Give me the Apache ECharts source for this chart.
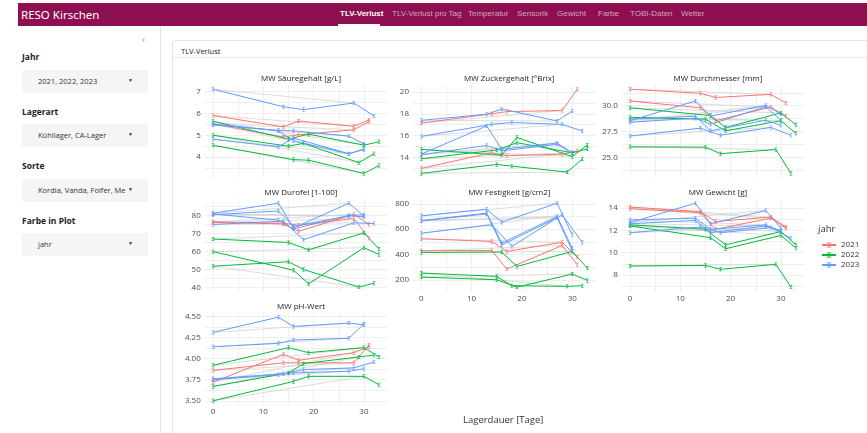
<!DOCTYPE html>
<html>
<head>
<meta charset="utf-8">
<title>RESO Kirschen</title>
<script src="https://cdn.jsdelivr.net/npm/echarts@6/dist/echarts.min.js"></script>
<style>
  body { margin: 0; width: 867px; height: 433px; overflow: hidden; position: relative; background: #fff; font-family: "Open Sans", sans-serif; }
  .topbar { position: absolute; left: 18px; top: 3px; right: 0; height: 23px; background: #8d0f50; color: #fff; }
  .brand { position: absolute; left: 3px; top: 4px; font-size: 11.5px; font-family: "Noto Sans", sans-serif; }
  .tab { position: absolute; top: 6px; font-size: 8px; font-family: "Liberation Sans Narrow", sans-serif; color: rgba(255,255,255,0.62); white-space: nowrap; }
  .tab.active { color: #fff; font-weight: bold; }
  .tabline { position: absolute; left: 320px; top: 21px; width: 42px; height: 2px; background: #fff; }
  .side { position: absolute; left: 0; top: 26px; width: 160px; bottom: 0; border-right: 1px solid #e6e6e6; }
  .collapse { position: absolute; left: 142px; top: 6px; font-size: 10px; color: #aaa; }
  .lab { position: absolute; left: 22px; font-size: 8.5px; font-weight: bold; color: #222; }
  .box { position: absolute; left: 22px; width: 126px; height: 23px; background: #f5f5f5; }
  .box span { position: absolute; left: 16px; top: 6px; font-size: 7.5px; color: #333; white-space: nowrap; }
  .box i { position: absolute; left: 106px; top: 7px; font-size: 5px; font-style: normal; color: #333; }
  .card { position: absolute; left: 172px; top: 40px; width: 700px; height: 400px; border: 1px solid #e4e4e4; border-radius: 3px; }
  .card .head { height: 17px; border-bottom: 1px solid #ececec; font-size: 7.5px; color: #222; padding: 5px 0 0 8px; box-sizing: border-box; }
  #chart { position: absolute; left: 0; top: 0; width: 867px; height: 433px; }
</style>
</head>
<body>
<div class="topbar">
  <div class="brand">RESO Kirschen</div>
  <div class="tab active" style="left:322px">TLV-Verlust</div>
  <div class="tab" style="left:374px">TLV-Verlust pro Tag</div>
  <div class="tab" style="left:450px">Temperatur</div>
  <div class="tab" style="left:499px">Sensorik</div>
  <div class="tab" style="left:539px">Gewicht</div>
  <div class="tab" style="left:580px">Farbe</div>
  <div class="tab" style="left:612px">TOBI-Daten</div>
  <div class="tab" style="left:663px">Wetter</div>
  <div class="tabline"></div>
</div>
<div class="side">
  <div class="collapse">&lsaquo;</div>
  <div class="lab" style="top:25px">Jahr</div>
  <div class="box" style="top:44px"><span>2021, 2022, 2023</span><i>&#9660;</i></div>
  <div class="lab" style="top:80px">Lagerart</div>
  <div class="box" style="top:98px"><span>Kühllager, CA-Lager</span><i>&#9660;</i></div>
  <div class="lab" style="top:134px">Sorte</div>
  <div class="box" style="top:153px"><span>Kordia, Vanda, Folfer, Me</span><i>&#9660;</i></div>
  <div class="lab" style="top:189px">Farbe in Plot</div>
  <div class="box" style="top:207px"><span>jahr</span><i>&#9660;</i></div>
</div>
<div class="card"><div class="head">TLV-Verlust</div></div>
<div id="chart"></div>
<script>
// one row per series (sorte x lagerart), coloured by jahr
var jahr = ['2021', '2021', '2022', '2022', '2022', '2023', '2023', '2023', '2023'];
var tage = [
  [0, 14, 17, 28, 31],
  [0, 14, 17, 28, 31],
  [0, 15, 19, 30, 33],
  [0, 16, 19, 30, 33],
  [0, 15, 18, 29, 32],
  [0, 13, 16, 27, 30],
  [0, 13, 16, 27, 30],
  [0, 14, 18, 28, 32],
  [0, 13, 16, 27, 30]
];

var saeure = [
  [5.90, 5.38, 5.65, 5.41, 5.70],
  [5.52, 4.92, 5.02, 5.25, 5.62],
  [5.64, 4.82, 5.05, 4.55, 4.70],
  [4.54, 3.89, 3.86, 3.26, 3.62],
  [5.00, 4.50, 4.63, 3.75, 4.16],
  [5.47, 5.22, 5.20, 4.96, 4.60],
  [4.82, 4.47, 4.87, 4.16, 4.37],
  [7.10, 6.30, 6.17, 6.47, 5.88],
  [5.52, 5.20, 4.75, 4.15, 4.35]
];
var zucker = [
  [17.15, 18.00, 18.20, 18.30, 20.25],
  [13.00, 14.43, 14.16, 14.30, 14.58],
  [13.88, 14.68, 15.35, 14.43, 14.77],
  [14.74, 14.20, 15.84, 14.07, 15.14],
  [12.54, 13.36, 13.20, 12.66, 13.85],
  [17.40, 17.95, 18.44, 17.34, 18.25],
  [14.31, 16.88, 14.74, 15.32, 14.43],
  [15.93, 17.03, 17.20, 17.03, 16.42],
  [14.25, 15.10, 14.60, 15.20, 14.40]
];
var durchmesser = [
  [31.60, 31.20, 30.80, 31.10, 30.26],
  [30.46, 29.80, 28.55, 29.87, 29.00],
  [28.88, 28.70, 27.57, 28.55, 27.33],
  [29.80, 29.05, 27.90, 29.30, 28.15],
  [26.02, 25.99, 25.36, 25.76, 23.45],
  [28.55, 30.46, 29.00, 30.03, 29.20],
  [28.70, 28.98, 27.57, 28.60, 28.10],
  [27.07, 27.83, 27.14, 27.90, 27.14],
  [28.40, 28.80, 28.20, 29.90, 28.60]
];
var durofel = [
  [76.5, 75.2, 71.2, 80.6, 75.0],
  [76.1, 75.7, 74.5, 78.3, 67.4],
  [66.9, 65.0, 60.9, 70.3, 61.4],
  [59.9, 49.6, 42.0, 62.1, 58.3],
  [51.8, 54.3, 50.0, 40.2, 42.4],
  [81.2, 86.8, 73.0, 86.8, 79.7],
  [80.4, 82.5, 74.0, 79.7, 79.3],
  [75.0, 76.8, 66.5, 75.9, 75.5],
  [80.8, 77.4, 72.5, 80.0, 80.4]
];
var festigkeit = [
  [524, 503, 424, 497, 379],
  [429, 432, 285, 471, 319],
  [221, 200, 142, 245, 195],
  [416, 419, 305, 424, 292],
  [253, 227, 153, 148, 153],
  [705, 758, 655, 805, 555],
  [668, 726, 490, 700, 450],
  [568, 634, 463, 713, 495],
  [665, 720, 475, 690, 430]
];
var gewicht = [
  [14.10, 13.70, 12.80, 13.20, 12.30],
  [13.95, 13.60, 12.10, 13.10, 12.20],
  [12.50, 12.10, 10.70, 11.90, 10.70],
  [12.40, 11.35, 10.35, 11.55, 10.40],
  [8.80, 8.85, 8.50, 8.95, 6.90],
  [12.70, 14.45, 12.60, 13.80, 12.20],
  [12.95, 13.10, 12.10, 12.50, 11.90],
  [11.80, 12.30, 11.80, 12.25, 11.30],
  [12.60, 12.90, 11.80, 12.40, 12.00]
];
var ph = [
  [3.86, 3.95, 3.95, 3.95, 4.16],
  [3.72, 4.05, 3.98, 4.07, 4.14],
  [3.92, 4.13, 4.07, 4.13, 4.02],
  [3.50, 3.73, 3.79, 3.79, 3.69],
  [3.67, 3.83, 3.94, 4.02, 4.04],
  [4.31, 4.49, 4.38, 4.42, 4.40],
  [4.14, 4.18, 4.22, 4.24, 4.41],
  [3.76, 3.82, 3.87, 3.89, 3.96],
  [3.75, 3.81, 3.83, 3.85, 3.88]
];

// tick labels
var xTicks = [0, 10, 20, 30];
var saeureTicks = [4, 5, 6, 7];
var zuckerTicks = [14, 16, 18, 20];
var durchTicks = [25, 27.5, 30];
var durofelTicks = [40, 50, 60, 70, 80, 90];
var festTicks = [200, 400, 600, 800];
var gewichtTicks = [8, 10, 12, 14];
var phTicks = [3.5, 3.75, 4, 4.25, 4.5];

var farben = { '2021': '#F8766D', '2022': '#00BA38', '2023': '#619CFF' };

var cols = [[204.7, 387.3], [413, 595.6], [621.7, 804.3]];
var rows = [[85, 177.6], [199, 291.3], [313, 405]];

var panels = [
  { title: 'MW Säuregehalt [g/L]', werte: saeure, ticks: saeureTicks, dec: 0, c: 0, r: 0, xlab: false },
  { title: 'MW Zuckergehalt [°Brix]', werte: zucker, ticks: zuckerTicks, dec: 0, c: 1, r: 0, xlab: false },
  { title: 'MW Durchmesser [mm]', werte: durchmesser, ticks: durchTicks, dec: 1, c: 2, r: 0, xlab: false },
  { title: 'MW Durofel [1-100]', werte: durofel, ticks: durofelTicks, dec: 0, c: 0, r: 1, xlab: false },
  { title: 'MW Festigkeit [g/cm2]', werte: festigkeit, ticks: festTicks, dec: 0, c: 1, r: 1, xlab: true },
  { title: 'MW Gewicht [g]', werte: gewicht, ticks: gewichtTicks, dec: 0, c: 2, r: 1, xlab: true },
  { title: 'MW pH-Wert', werte: ph, ticks: phTicks, dec: 2, c: 0, r: 2, xlab: true }
];

// error bar look-alike marker
var errSym = 'path://M0,0 L4,0 L4,1 L2.5,1 L2.5,7 L4,7 L4,8 L0,8 L0,7 L1.5,7 L1.5,1 L0,1 Z';

function expand(lo, hi) {
  var d = (hi - lo) * 0.05;
  return [lo - d, hi + d];
}
function withMinor(ticks, lo, hi) {
  var step = ticks[1] - ticks[0];
  var out = [];
  for (var v = ticks[0] - step; v <= ticks[ticks.length - 1] + step + 1e-9; v += step / 2) {
    if (v >= lo && v <= hi) out.push(+v.toFixed(4));
  }
  return out;
}

var allDays = [].concat.apply([], tage);
var xr = expand(Math.min.apply(null, allDays), Math.max.apply(null, allDays));

var grids = [], xAxes = [], yAxes = [], series = [], titles = [];
var labelCol = '#4d4d4d', gridCol = '#ebebeb';

panels.forEach(function (p, i) {
  var flat = [].concat.apply([], p.werte);
  var yr = expand(Math.min.apply(null, flat), Math.max.apply(null, flat));
  var L = cols[p.c][0], R = cols[p.c][1], T = rows[p.r][0], B = rows[p.r][1];
  grids.push({ left: L, top: T, width: R - L, height: B - T, outerBoundsMode: 'none' });
  titles.push({
    text: p.title, left: (L + R) / 2, top: T - 15, textAlign: 'center',
    textStyle: { fontSize: 8, fontWeight: 'normal', color: '#1a1a1a', fontFamily: 'Open Sans' }
  });
  xAxes.push({
    gridIndex: i, type: 'value', min: xr[0], max: xr[1],
    axisLine: { show: false },
    axisTick: { show: false, customValues: withMinor(xTicks, xr[0], xr[1]) },
    axisLabel: { show: p.xlab, customValues: xTicks, fontSize: 8, color: labelCol, margin: 3, fontFamily: 'Open Sans' },
    splitLine: { show: true, lineStyle: { color: gridCol, width: 0.8 } }
  });
  yAxes.push({
    gridIndex: i, type: 'value', min: yr[0], max: yr[1],
    axisLine: { show: false },
    axisTick: { show: false, customValues: withMinor(p.ticks, yr[0], yr[1]) },
    axisLabel: {
      customValues: p.ticks, fontSize: 8, color: labelCol, margin: 4, fontFamily: 'Open Sans',
      formatter: function (v) { return v.toFixed(p.dec); }
    },
    splitLine: { show: true, lineStyle: { color: gridCol, width: 0.8 } }
  });
  p.werte.forEach(function (vals, s) {
    var pts = tage[s].map(function (d, k) { return [d, vals[k]]; });
    series.push({
      type: 'line', name: 'trend', xAxisIndex: i, yAxisIndex: i, silent: true,
      data: [pts[0], pts[3]], symbol: 'none', z: 2,
      lineStyle: { color: '#cdcdcd', width: 0.7 }
    });
    series.push({
      type: 'line', name: jahr[s], xAxisIndex: i, yAxisIndex: i,
      data: pts, symbol: errSym, symbolSize: [3, 4], z: 3,
      itemStyle: { color: farben[jahr[s]] },
      lineStyle: { color: farben[jahr[s]], width: 1 }
    });
  });
});

var myChart = echarts.init(document.getElementById('chart'), null, { renderer: 'canvas' });
myChart.setOption({
  animation: false,
  backgroundColor: 'transparent',
  title: titles,
  grid: grids,
  xAxis: xAxes,
  yAxis: yAxes,
  legend: {
    data: ['2021', '2022', '2023'], orient: 'vertical', left: 816, top: 236,
    itemWidth: 14, itemHeight: 6, itemGap: 2,
    textStyle: { fontSize: 8, color: '#333', fontFamily: 'Open Sans' }
  },
  graphic: [
    { type: 'text', left: 818, top: 224, style: { text: 'jahr', fontSize: 9.5, fill: '#333', fontFamily: 'Open Sans' } },
    { type: 'text', left: 463, top: 415, style: { text: 'Lagerdauer [Tage]', fontSize: 9.5, fill: '#333', fontFamily: 'Open Sans' } }
  ],
  series: series
});
</script>
</body>
</html>
